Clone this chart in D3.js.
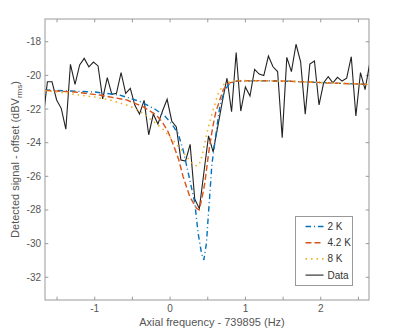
<!DOCTYPE html>
<html>
<head>
<meta charset="utf-8">
<script src="https://cdn.jsdelivr.net/npm/d3@7"></script>
<style>
  body { margin: 0; background: #fff; }
  text { font-family: "Liberation Sans", Arial, sans-serif; }
</style>
</head>
<body>
<script>
// measured trace: uniform frequency grid, offset from 739895 Hz
var freqStart = -1.689;
var freqStep = 0.0611;
var dataValues = [
  -22.65, -20.38, -20.38, -21.46, -21.96, -23.20, -19.34, -20.53, -19.38, -18.99,
  -19.49, -19.21, -19.44, -21.40, -20.14, -21.13, -21.07, -19.84, -21.07, -20.77,
  -21.78, -22.30, -21.49, -23.53, -22.30, -22.89, -22.12, -21.42, -22.71, -23.07,
  -25.03, -25.09, -24.10, -27.35, -27.92, -25.74, -23.60, -24.55, -23.05, -21.55,
  -20.17, -22.16, -18.64, -22.12, -20.69, -21.23, -19.64, -19.92, -20.01, -18.85,
  -19.49, -19.77, -23.70, -18.93, -19.78, -18.15, -19.19, -22.31, -19.33, -19.15,
  -21.76, -20.44, -20.08, -20.44, -20.12, -20.34, -20.17, -18.89, -22.41, -19.84,
  -20.85, -19.30
];

// model curves [freq, dBV]
var fit2K = [
  [-1.660, -20.87], [-1.000, -20.99], [-0.668, -21.17], [-0.402, -21.55], [-0.203, -22.00],
  [-0.070, -22.41], [0.023, -22.89], [0.106, -23.45], [0.173, -24.43], [0.262, -26.22],
  [0.328, -27.58], [0.372, -29.38], [0.417, -30.57], [0.448, -30.97], [0.483, -29.96],
  [0.505, -28.48], [0.527, -27.11], [0.554, -25.33], [0.616, -23.25], [0.660, -21.86],
  [0.726, -20.87], [0.793, -20.47], [0.882, -20.34], [1.191, -20.32], [1.590, -20.35],
  [2.121, -20.45], [2.639, -20.54]
];
var fit42K = [
  [-1.660, -20.89], [-1.266, -20.99], [-0.934, -21.17], [-0.579, -21.46], [-0.359, -21.86],
  [-0.181, -22.36], [-0.093, -22.85], [-0.027, -23.35], [0.023, -23.90], [0.069, -24.43],
  [0.116, -25.03], [0.173, -26.02], [0.262, -27.21], [0.351, -27.90], [0.385, -28.00],
  [0.421, -27.35], [0.461, -26.41], [0.505, -24.85], [0.527, -24.14], [0.571, -22.95],
  [0.607, -22.18], [0.660, -21.46], [0.704, -20.87], [0.770, -20.47], [0.882, -20.34],
  [1.191, -20.31], [1.590, -20.35], [2.121, -20.45], [2.639, -20.54]
];
var fit8K = [
  [-1.660, -20.90], [-1.438, -21.02], [-1.199, -21.17], [-1.000, -21.29], [-0.801, -21.46],
  [-0.535, -21.82], [-0.363, -22.24], [-0.230, -22.71], [-0.097, -23.19], [0.023, -23.78],
  [0.129, -24.32], [0.235, -24.91], [0.315, -25.33], [0.368, -25.39], [0.408, -25.09],
  [0.461, -24.02], [0.505, -23.13], [0.571, -22.06], [0.637, -21.11], [0.704, -20.57],
  [0.793, -20.34], [0.926, -20.31], [1.590, -20.35], [2.121, -20.45], [2.639, -20.54]
];

var seriesNames = ["2 K", "4.2 K", "8 K", "Data"];
var xTicks = [-1, 0, 1, 2];
var xMinorTicks = [-1.5, -1, -0.5, 0, 0.5, 1, 1.5, 2, 2.5];
var yTicks = [-32, -30, -28, -26, -24, -22, -20, -18];

d3.select("body").append("svg")
  .attr("width", 399)
  .attr("height", 332);

var svg = d3.select("svg");

var margin = {
  top: 19,
  right: 30,
  bottom: 32,
  left: 45
}

var width = +svg.attr("width") - margin.left - margin.right
var height = +svg.attr("height") - margin.top - margin.bottom

var xScale = d3.scaleLinear().range([0, width]).domain([-1.66, 2.64]);
var yScale = d3.scaleLinear().range([height, 0]).domain([-33.35, -16.65]);

var g = svg.append("g")
  .attr("transform", "translate(" + margin.left + "," + margin.top + ")");

g.append("clipPath").attr("id", "clip")
  .append("rect").attr("width", width).attr("height", height);

var axisColor = "#999";
var textColor = "#555";

// ticks on all four sides, pointing inward
var tickLen = 3.3;
g.append("g").selectAll("line").data(xMinorTicks).enter().append("line")
  .attr("x1", d => xScale(d)).attr("x2", d => xScale(d))
  .attr("y1", height).attr("y2", height - tickLen)
  .attr("stroke", axisColor);
g.append("g").selectAll("line").data(xMinorTicks).enter().append("line")
  .attr("x1", d => xScale(d)).attr("x2", d => xScale(d))
  .attr("y1", 0).attr("y2", tickLen)
  .attr("stroke", axisColor);
g.append("g").selectAll("line").data(yTicks).enter().append("line")
  .attr("x1", 0).attr("x2", tickLen)
  .attr("y1", d => yScale(d)).attr("y2", d => yScale(d))
  .attr("stroke", axisColor);
g.append("g").selectAll("line").data(yTicks).enter().append("line")
  .attr("x1", width).attr("x2", width - tickLen)
  .attr("y1", d => yScale(d)).attr("y2", d => yScale(d))
  .attr("stroke", axisColor);

g.append("rect")
  .attr("width", width).attr("height", height)
  .attr("fill", "none").attr("stroke", axisColor);

g.append("g").selectAll("text").data(xTicks).enter().append("text")
  .attr("x", d => xScale(d)).attr("y", height + 12)
  .attr("text-anchor", "middle")
  .style("font-size", "10px").attr("fill", textColor)
  .text(d => d);

g.append("g").selectAll("text").data(yTicks).enter().append("text")
  .attr("x", -4).attr("y", d => yScale(d) + 3.5)
  .attr("text-anchor", "end")
  .style("font-size", "10px").attr("fill", textColor)
  .text(d => d);

svg.append("text")
  .attr("x", 212)
  .attr("y", 326)
  .attr("text-anchor", "middle")
  .style("font-size", "11px").attr("fill", textColor)
  .text("Axial frequency - 739895 (Hz)");

var ylab = svg.append("text")
  .attr("transform", "translate(18.5," + (margin.top + height / 2) + ") rotate(-90)")
  .attr("text-anchor", "middle")
  .style("font-size", "11px").attr("fill", textColor);
ylab.append("tspan").text("Detected signal  - offset (dBV");
ylab.append("tspan").attr("dy", 3).style("font-size", "8px").text("rms");
ylab.append("tspan").attr("dy", -3).text(")");

var line = d3.line()
  .x(d => xScale(d[0]))
  .y(d => yScale(d[1]));

var plot = g.append("g").attr("clip-path", "url(#clip)");

var dataPts = dataValues.map((v, i) => [freqStart + i * freqStep, v]);

var styles = [
  { color: "#0072BD", dash: "5.5,3,1,3", w: 1.4, pts: fit2K },
  { color: "#D95319", dash: "6,3", w: 1.4, pts: fit42K },
  { color: "#EDB120", dash: "1.5,4", w: 1.6, pts: fit8K },
  { color: "#222", dash: null, w: 1.1, pts: dataPts }
];

// data underneath, fits on top
plot.append("path")
  .attr("d", line(dataPts))
  .attr("fill", "none").attr("stroke", "#222").attr("stroke-width", 1.1);

styles.slice(0, 3).forEach(function(s) {
  plot.append("path")
    .attr("d", line(s.pts))
    .attr("fill", "none")
    .attr("stroke", s.color)
    .attr("stroke-width", s.w)
    .attr("stroke-dasharray", s.dash);
});

// legend
var leg = svg.append("g").attr("transform", "translate(295.5,216.5)");
leg.append("rect")
  .attr("width", 57).attr("height", 69)
  .attr("fill", "#fff").attr("stroke", axisColor);

seriesNames.forEach(function(name, i) {
  var y = 10 + i * 16.2;
  leg.append("line")
    .attr("x1", 10).attr("x2", 28)
    .attr("y1", y).attr("y2", y)
    .attr("stroke", styles[i].color)
    .attr("stroke-width", styles[i].w)
    .attr("stroke-dasharray", styles[i].dash);
  leg.append("text")
    .attr("x", 32).attr("y", y + 3.5)
    .style("font-size", "10px").attr("fill", "#333")
    .text(name);
});
</script>
</body>
</html>
